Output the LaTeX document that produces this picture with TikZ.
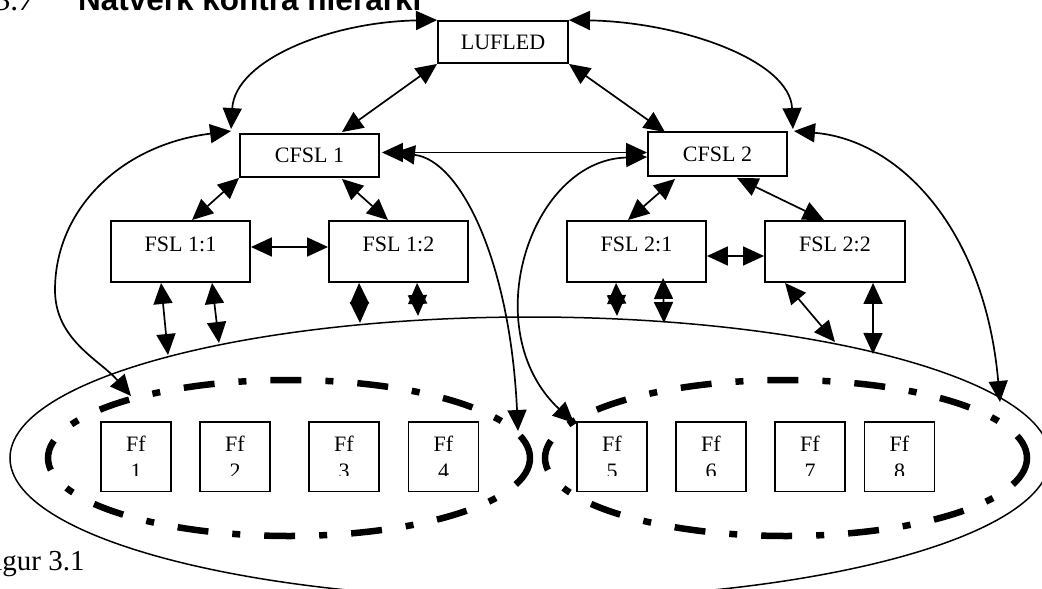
\documentclass[tikz,border=0pt]{standalone}
\usepackage{fontspec}
\setmainfont{Liberation Serif}
\newfontfamily\headsans{Liberation Sans}
\usetikzlibrary{arrows.meta}
\newcommand{\ffunit}[3]{%
  \node[ffbox] (#1) at (#2,456.75) {};
  \begin{scope}
    \clip ({#2-33},424) rectangle ({#2+33},475);
    \node[fftxt] (#1t) at (#2,451.7) {Ff};
    \node[fftxt] (#1n) at (#2,478) {#3};
  \end{scope}}
\begin{document}
\begin{tikzpicture}[x=1pt,y=-1pt,
  >={Triangle[length=21pt,width=19pt]},
  conn/.style={line width=1.7pt,<->},
  box/.style={draw,line width=1.9pt,rectangle,inner sep=0pt,
    font=\fontsize{22}{26}\selectfont},
  fslbox/.style={box,minimum width=139pt,minimum height=61pt,
    text height=14.5pt,text depth=15.5pt},
  ffbox/.style={draw,line width=1.9pt,rectangle,inner sep=0pt,
    minimum width=70pt,minimum height=69.5pt},
  fftxt/.style={anchor=base,inner sep=0pt,font=\fontsize{22}{26}\selectfont},
  dashell/.style={line width=6.5pt,dash pattern=on 31pt off 24pt on 8pt off 24pt},
  bigell/.style={line width=1.5pt}
]
\useasboundingbox (0,0) rectangle (1042,589);

% heading and caption
\node[anchor=base east,inner sep=0pt,font=\fontsize{31.5}{36}\selectfont\itshape] (num) at (35,10) {3.7};
\node[anchor=base west,inner sep=0pt,font=\headsans\bfseries\fontsize{31.5}{36}\selectfont] (head) at (78,10) {Nätverk kontra hierarki};
\node[anchor=base west,inner sep=0pt,font=\fontsize{29}{32}\selectfont] (fig) at (-22,570) {Figur 3.1};

% groups
\draw[bigell] (530,458) ellipse [x radius=520, y radius=141];
\draw[dashell] (289,458) ellipse [x radius=241, y radius=78];
\draw[dashell] (786,458) ellipse [x radius=241, y radius=78];

% boxes
\node[box,minimum width=130pt,minimum height=42pt] (lufled) at (503,42) {LUFLED};
\node[box,minimum width=139pt,minimum height=43pt] (cfsl1) at (309.5,155.5) {CFSL 1};
\node[box,minimum width=139pt,minimum height=44pt] (cfsl2) at (717.5,154) {CFSL 2};
\node[fslbox] (fsl11) at (180.5,251.5) {FSL 1:1};
\node[fslbox] (fsl12) at (398.5,251.5) {FSL 1:2};
\node[fslbox] (fsl21) at (636.5,251.5) {FSL 2:1};
\node[fslbox,minimum width=140pt] (fsl22) at (835,251.5) {FSL 2:2};

\ffunit{ff1}{136}{1}
\ffunit{ff2}{235}{2}
\ffunit{ff3}{344}{3}
\ffunit{ff4}{443.5}{4}
\ffunit{ff5}{612}{5}
\ffunit{ff6}{711}{6}
\ffunit{ff7}{810}{7}
\ffunit{ff8}{899.5}{8}

% free ends on the groups
\coordinate (e1) at (131,396);
\coordinate (e2) at (518,431);
\coordinate (e3) at (1000,402);
\coordinate (e4) at (574,423);
\coordinate (b1) at (168,355);
\coordinate (b2) at (219,343);
\coordinate (b3) at (360,323);
\coordinate (b4) at (418,316);
\coordinate (b5) at (617,316);
\coordinate (b6) at (664,323);
\coordinate (b7) at (835,342);
\coordinate (b8) at (873,354);

% helper points at boxes
\coordinate (c1nw) at ([xshift=-8pt,yshift=4pt]cfsl1.north west);
\coordinate (c1nw2) at ([xshift=-8pt,yshift=2pt]cfsl1.north west);
\coordinate (h1) at ([xshift=2pt,yshift=3pt]cfsl1.east);
\coordinate (h2) at ([xshift=14pt,yshift=3pt]cfsl1.east);
\coordinate (c2ne) at ([xshift=5pt,yshift=2pt]cfsl2.north east);
\coordinate (c2ne2) at ([xshift=6pt]cfsl2.north east);
\coordinate (c2w) at ([yshift=-3pt]cfsl2.west);

% connectors
\draw[conn] (lufled.north west) .. controls (330,22) and (235,60) .. (c1nw);
\draw[conn] (c1nw2) .. controls (120,145) and (55,210) .. (55,290)
                    .. controls (55,340) and (100,360) .. (e1);
\draw[conn] (lufled.south west) -- ([xshift=32.5pt,yshift=1pt]cfsl1.north);
\draw[conn] (h1) -- (h1 -| cfsl2.west);
\draw[conn] (h2) .. controls (460,160) and (510,260) .. (e2);
\draw[conn] (lufled.north east) .. controls (680,22) and (790,60) .. (c2ne);
\draw[conn] (lufled.south east) -- ([xshift=-52.5pt,yshift=-1pt]cfsl2.north);
\draw[conn] (c2ne2) .. controls (900,140) and (985,230) .. (e3);
\draw[conn] (c2w) .. controls (530,160) and (475,330) .. (e4);

\draw[conn] (cfsl1.south west) -- ([xshift=11.5pt]fsl11.north);
\draw[conn] ([xshift=32.5pt,yshift=-1pt]cfsl1.south) -- ([xshift=-10.5pt]fsl12.north);
\draw[conn] ([yshift=4.5pt]fsl11.east) -- ([yshift=4.5pt]fsl12.west);
\draw[conn] ([xshift=28pt,yshift=-2pt]cfsl2.south west) -- ([xshift=-8.5pt]fsl21.north);
\draw[conn] ([xshift=19.5pt,yshift=-1pt]cfsl2.south) -- ([xshift=-11pt]fsl22.north);
\draw[conn] ([yshift=-4.5pt]fsl21.east) -- ([yshift=-4.5pt]fsl22.west);

\draw[conn] ([xshift=51pt]fsl11.south west) -- (b1);
\draw[conn] ([xshift=102pt]fsl11.south west) -- (b2);
\draw[conn] ([xshift=31pt]fsl12.south west) -- (b3);
\draw[conn] ([xshift=89pt]fsl12.south west) -- (b4);
\draw[conn] ([xshift=50pt]fsl21.south west) -- (b5);
\draw[conn] ([xshift=97pt,yshift=5pt]fsl21.south west) -- (b6);
\draw[conn] ([xshift=21pt]fsl22.south west) -- (b7);
\draw[conn] ([xshift=109pt]fsl22.south west) -- (b8);
\end{tikzpicture}
\end{document}
